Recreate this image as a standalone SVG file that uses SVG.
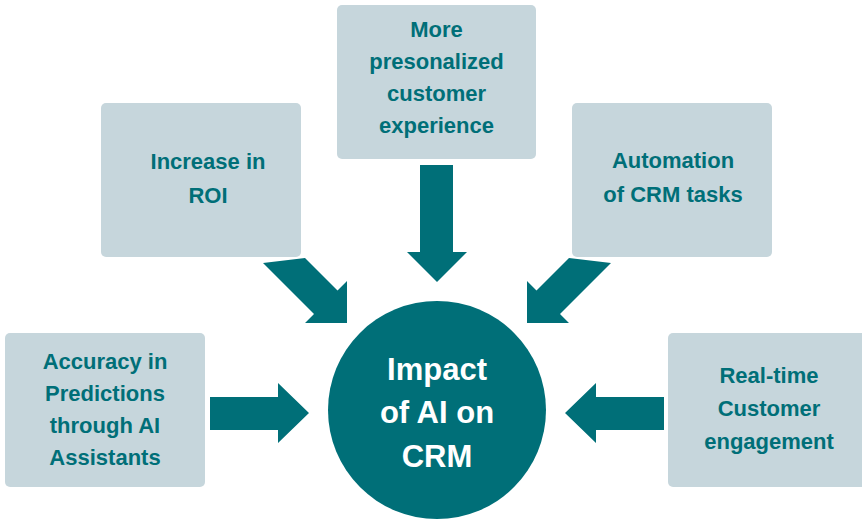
<svg xmlns="http://www.w3.org/2000/svg" width="862" height="521" viewBox="0 0 862 521">
<style>
.box{fill:#c6d6dc;}
.arrow{fill:#006f78;}
.t{font-family:"Liberation Sans",Arial,sans-serif;font-weight:bold;font-size:22px;fill:#006f78;text-anchor:middle;}
.c{font-family:"Liberation Sans",Arial,sans-serif;font-weight:bold;font-size:31px;fill:#ffffff;text-anchor:middle;}
</style>
<rect width="862" height="521" fill="#ffffff"/>
<g id="connectors">
<polygon class="arrow" points="420,165 453,165 453,252 467,252 437,282 407,252 420,252"/>
<polygon class="arrow" points="263,263 305,258 337.5,290.5 347,281 347,323 305,323 314,314"/>
<polygon class="arrow" points="611,263 569,258 536.5,290.5 527,281 527,323 569,323 560,314"/>
<polygon class="arrow" points="210,397 278,397 278,383 309,413 278,443 278,430 210,430"/>
<polygon class="arrow" points="664,397 596,397 596,383 565,413 596,443 596,430 664,430"/>
</g>
<g id="center">
<circle cx="437" cy="410" r="109" fill="#006f78"/>
<text class="c" x="437" y="380">Impact</text>
<text class="c" x="437" y="423">of AI on</text>
<text class="c" x="437" y="467">CRM</text>
</g>
<g id="node-top">
<rect class="box" x="337" y="5" width="199" height="154" rx="5"/>
<text class="t" x="436.5" y="37">More</text>
<text class="t" x="436.5" y="69">presonalized</text>
<text class="t" x="436.5" y="101">customer</text>
<text class="t" x="436.5" y="133">experience</text>
</g>
<g id="node-roi">
<rect class="box" x="101" y="103" width="200" height="154" rx="5"/>
<text class="t" x="208" y="169">Increase in</text>
<text class="t" x="208" y="203">ROI</text>
</g>
<g id="node-automation">
<rect class="box" x="572" y="103" width="200" height="154" rx="5"/>
<text class="t" x="673" y="168">Automation</text>
<text class="t" x="673" y="202">of CRM tasks</text>
</g>
<g id="node-accuracy">
<rect class="box" x="5" y="333" width="200" height="154" rx="5"/>
<text class="t" x="105" y="369">Accuracy in</text>
<text class="t" x="105" y="401">Predictions</text>
<text class="t" x="105" y="433">through AI</text>
<text class="t" x="105" y="465">Assistants</text>
</g>
<g id="node-realtime">
<rect class="box" x="668" y="333" width="200" height="154" rx="5"/>
<text class="t" x="769" y="383">Real-time</text>
<text class="t" x="769" y="416">Customer</text>
<text class="t" x="769" y="449">engagement</text>
</g>
</svg>
